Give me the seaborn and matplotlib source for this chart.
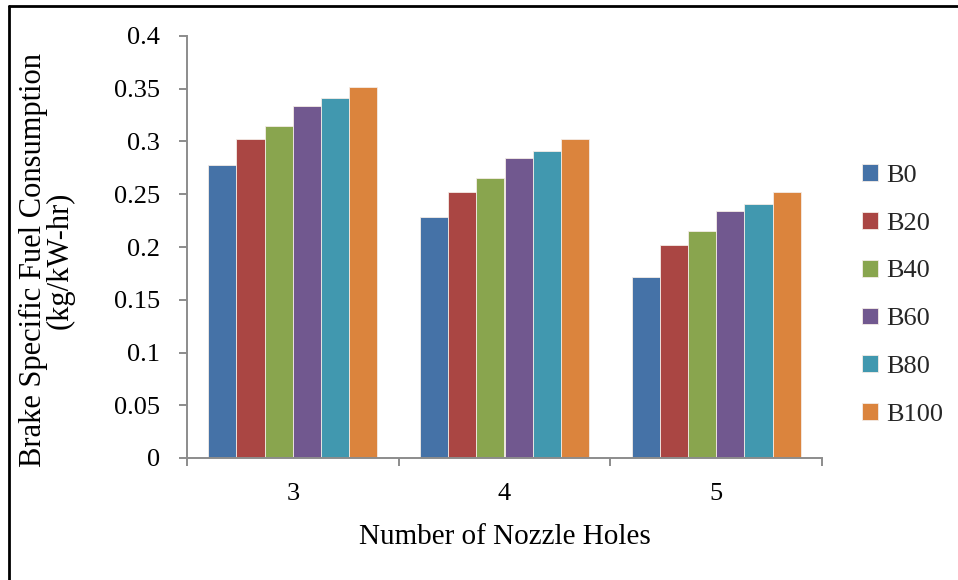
import matplotlib
matplotlib.use("Agg")
import matplotlib.pyplot as plt
from matplotlib.lines import Line2D
from matplotlib.ticker import FixedLocator, FuncFormatter
import seaborn as sns
import pandas as pd

# ---- data ----
holes = ["3", "4", "5"]
blends = ["B0", "B20", "B40", "B60", "B80", "B100"]
b0 = [0.278, 0.228, 0.172]
b20 = [0.302, 0.252, 0.202]
b40 = [0.315, 0.265, 0.215]
b60 = [0.334, 0.284, 0.234]
b80 = [0.341, 0.291, 0.241]
b100 = [0.352, 0.302, 0.252]
colors = ["#4572A7", "#AA4643", "#89A54E", "#71588F", "#4198AF", "#DB843D"]

series = [b0, b20, b40, b60, b80, b100]
rows = []
for name, vals in zip(blends, series):
    for h, v in zip(holes, vals):
        rows.append({"Holes": h, "Blend": name, "BSFC": v})
df = pd.DataFrame(rows)

sns.set_theme(style="white")
plt.rcParams["font.family"] = ["Liberation Serif", "DejaVu Serif"]

fig = plt.figure(figsize=(9.58, 5.80), dpi=100)
ax = fig.add_axes([187 / 958, 1 - 458 / 580, (822 - 187) / 958, (458 - 36) / 580])

sns.barplot(data=df, x="Holes", y="BSFC", hue="Blend", order=holes,
            hue_order=blends, palette=colors, width=0.8, ax=ax,
            edgecolor="#f4ece6", linewidth=0.6, saturation=1, legend=True)

ax.set_xlim(-0.5, 2.5)
ax.set_ylim(0, 0.4)
ax.yaxis.set_major_locator(FixedLocator([i * 0.05 for i in range(9)]))
ax.yaxis.set_major_formatter(FuncFormatter(lambda v, p: ("%.2f" % v).rstrip("0").rstrip(".") if v != 0 else "0"))

grey = "#8c8c8c"
for s in ["top", "right"]:
    ax.spines[s].set_visible(False)
for s in ["left", "bottom"]:
    ax.spines[s].set_color(grey)
    ax.spines[s].set_linewidth(1.4)

ax.tick_params(axis="y", which="major", direction="out", length=5.5, width=1.4,
               color=grey, labelsize=19, pad=14, left=True, labelcolor="black")
ax.tick_params(axis="x", which="major", length=0, labelsize=19, pad=18, labelcolor="black")
ax.xaxis.set_minor_locator(FixedLocator([-0.5, 0.5, 1.5, 2.5]))
ax.tick_params(axis="x", which="minor", direction="out", length=6, width=1.4,
               color=grey, bottom=True)

ax.set_xlabel("Number of Nozzle Holes", fontsize=21, labelpad=14, color="black")
ax.set_ylabel("Brake Specific Fuel Consumption\n(kg/kW-hr)", fontsize=22,
              labelpad=28.5, color="black", linespacing=0.85)
ax.yaxis.label.set_y((458 - 260) / 422)

handles, labels = ax.get_legend_handles_labels()
ax.legend(handles, labels, loc="center left", bbox_to_anchor=(862 / 958, 1 - 295 / 580),
          bbox_transform=fig.transFigure, frameon=False, fontsize=19,
          handlelength=0.6, handleheight=0.6, handletextpad=0.3,
          labelspacing=0.95, borderpad=0, borderaxespad=0)

# outer frame (top and left edges)
fig.add_artist(Line2D([8.5 / 958, 1], [1 - 6 / 580, 1 - 6 / 580], transform=fig.transFigure,
                      color="black", linewidth=2))
fig.add_artist(Line2D([8.5 / 958, 8.5 / 958], [0, 1 - 6 / 580], transform=fig.transFigure,
                      color="black", linewidth=2))

fig.savefig("out.png", dpi=100, facecolor="white")
